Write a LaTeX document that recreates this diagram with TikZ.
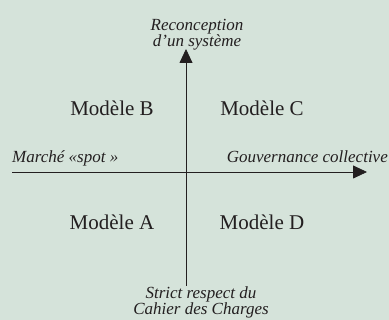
\documentclass[tikz,border=0pt]{standalone}
\usepackage{fontspec}
\setmainfont{Liberation Serif}
\usetikzlibrary{arrows.meta}
\definecolor{bgcol}{HTML}{D5E3DA}
\definecolor{inkcol}{HTML}{231F20}
\begin{document}
\begin{tikzpicture}[x=1pt,y=-1pt,
  axis/.style={draw=inkcol,line width=0.8pt,-{Triangle[length=14pt,width=13pt]}},
  model/.style={text=inkcol,font=\fontsize{21}{24}\selectfont,inner sep=0pt,anchor=base},
  pole/.style={text=inkcol,font=\itshape\fontsize{17}{13.5}\selectfont,inner sep=0pt,align=center,anchor=base}]
  \fill[bgcol] (0,0) rectangle (389,320);
  \useasboundingbox (0,0) rectangle (389,320);
  % axes
  \coordinate (vbot) at (186,286);
  \coordinate (vtop) at (186,49);
  \coordinate (hleft) at (12,172);
  \coordinate (hright) at (367,172);
  \draw[axis] (vbot) -- (vtop);
  \draw[axis] (hleft) -- (hright);
  % poles (base anchor sits on the last line)
  \node[pole] (top) at (197,47) {Reconception\\d'un système};
  \node[pole] (bottom) at (201,315) {Strict respect du\\Cahier des Charges};
  \node[pole,anchor=base west] (left) at (12,163) {Marché «spot »};
  \node[pole,anchor=base east] (right) at (388,163) {Gouvernance collective};
  % quadrants
  \node[model] (mb) at (112,116) {Modèle B};
  \node[model] (mc) at (262,116) {Modèle C};
  \node[model] (ma) at (112,230) {Modèle A};
  \node[model] (md) at (262,230) {Modèle D};
\end{tikzpicture}
\end{document}
